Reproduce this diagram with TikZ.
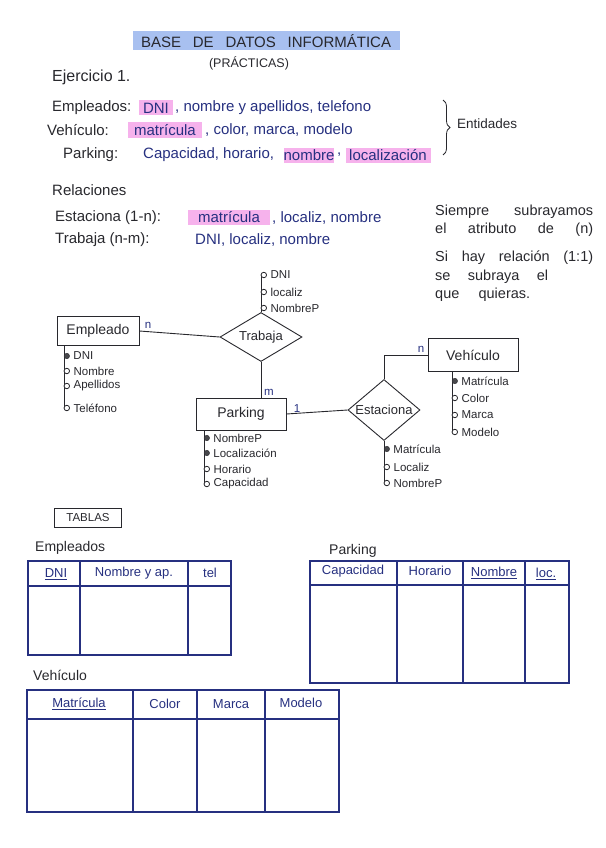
\documentclass[tikz,border=0pt]{standalone}
\usepackage{fontspec}
\setmainfont{Liberation Sans}
\usetikzlibrary{shapes.geometric,decorations.pathreplacing}

\definecolor{tinta}{RGB}{40,40,45}
\definecolor{azul}{RGB}{38,48,128}
\definecolor{rosa}{RGB}{246,178,236}
\definecolor{celeste}{RGB}{168,192,240}

\tikzset{
  texto/.style={anchor=west, inner sep=0pt, text=tinta, font=\fontsize{15}{18}\selectfont},
  dato/.style={texto, text=azul},
  resalte/.style={fill=rosa, text=azul, inner sep=0pt, minimum height=15pt, font=\fontsize{15}{18}\selectfont},
  nota/.style={texto, font=\fontsize{14.5}{17}\selectfont},
  entidad/.style={draw=tinta, line width=0.9pt, rectangle, inner sep=0pt, text=tinta, font=\fontsize{14}{16}\selectfont},
  relacion/.style={draw=tinta, line width=0.9pt, diamond, inner sep=0pt, text=tinta, font=\fontsize{13}{15}\selectfont},
  clave/.style={circle, draw=tinta, fill=tinta!85, inner sep=0pt, minimum size=5.5pt},
  atributo/.style={circle, draw=tinta, line width=0.8pt, fill=white, inner sep=0pt, minimum size=5.5pt},
  etiqueta/.style={inner sep=0pt, text=tinta, font=\fontsize{11.5}{13}\selectfont},
  card/.style={inner sep=0pt, text=azul, font=\fontsize{11.5}{13}\selectfont},
  linea/.style={draw=tinta, line width=0.9pt},
  tabla/.style={draw=azul, line width=1.1pt},
  cabecera/.style={inner sep=0pt, text=azul, font=\fontsize{13}{15}\selectfont}
}

\begin{document}
\begin{tikzpicture}[x=1pt, y=-1pt, label distance=3.5pt]
\useasboundingbox (0,0) rectangle (605,848);

% encabezado
\node[fill=celeste, minimum width=267, minimum height=19, inner sep=0pt, text=tinta,
      font=\fontsize{15}{18}\selectfont] (titulo) at (266,41) {\makebox[250pt][s]{BASE DE DATOS INFORMÁTICA}};
\node[texto, anchor=center, font=\fontsize{12.5}{14}\selectfont] (practicas) at (249,63) {(PRÁCTICAS)};
\node[texto, font=\fontsize{16}{18}\selectfont] (ejercicio) at (52,77) {Ejercicio 1.};

% entidades
\node[texto] (empleados) at (52,108) {Empleados:};
\node[resalte, minimum width=34] (hDNI) at (156,108) {DNI};
\node[dato] (restoEmp) at (175,108) {, nombre y apellidos, telefono};

\node[texto] (vehiculos) at (47,130) {Vehículo:};
\node[resalte, minimum width=74] (hMatricula) at (165,130) {matrícula};
\node[dato] (restoVeh) at (205,130) {, color, marca, modelo};

\node[texto] (parkings) at (63,155) {Parking:};
\node[dato] (restoPark) at (143,155) {Capacidad, horario,};
\node[resalte, minimum width=50] (hNombre) at (309,155) {nombre};
\node[dato] (coma) at (337,155) {,};
\node[resalte, minimum width=85] (hLocalizacion) at (388,155) {localización};

\draw[tinta, line width=0.8pt, decorate, decoration={brace, amplitude=7pt}] (443,100) -- (443,155);
\node[nota, font=\fontsize{13.5}{16}\selectfont] (entidades) at (457,124) {Entidades};

% relaciones
\node[texto] (relaciones) at (52,190) {Relaciones};
\node[texto] (estacionaTxt) at (55,218) {Estaciona (1-n):};
\node[resalte, minimum width=82] (hMatricula2) at (229,217) {matrícula};
\node[dato] (restoEst) at (272,218) {, localiz, nombre};
\node[texto] (trabajaTxt) at (55,240) {Trabaja (n-m):};
\node[dato] (restoTrab) at (195,240) {DNI, localiz, nombre};

\node[nota] (nota1) at (435,212) {\makebox[158pt][s]{Siempre subrayamos}};
\node[nota] (nota2) at (435,230) {\makebox[158pt][s]{el atributo de (n)}};
\node[nota] (nota3) at (435,258) {\makebox[158pt][s]{Si hay relación (1:1)}};
\node[nota] (nota4) at (435,277) {\makebox[113pt][s]{se subraya el}};
\node[nota] (nota5) at (435,295) {\makebox[95pt][s]{que quieras.}};

% diagrama
\node[entidad, minimum width=82, minimum height=29] (empleado) at (98,331) {Empleado};
\node[relacion, minimum width=82, minimum height=49, aspect=1.7] (trabaja) at (261,337) {Trabaja};
\node[entidad, minimum width=90, minimum height=32] (parking) at (241,414) {Parking};
\node[relacion, minimum width=72, minimum height=61, aspect=1.2] (estaciona) at (384,410) {Estaciona};
\node[entidad, minimum width=90, minimum height=33] (vehiculo) at (473,355) {Vehículo};

\draw[linea] (empleado.east) -- (trabaja.west);
\draw[linea] (trabaja.south) -- (trabaja.south |- parking.north);
\draw[linea] (parking.east) -- (estaciona.west);
\draw[linea] (estaciona.north) |- (vehiculo.west);

\node[card] (nEmp) at (148,325) {n};
\node[card] (mPark) at (269,392) {m};
\node[card] (unoPark) at (297,409) {1};
\node[card] (nVeh) at (421,349) {n};

% atributos
\draw[linea] (64,346) -- (64,408);
\node[clave, label={[etiqueta]right:DNI}] (eDNI) at (66.8,356) {};
\node[atributo, label={[etiqueta]right:Nombre}] (eNombre) at (66.8,371) {};
\node[atributo, label={[etiqueta]right:Apellidos}] (eApellidos) at (66.8,386) {};
\node[atributo, label={[etiqueta]right:Teléfono}] (eTelefono) at (66.8,408) {};

\draw[linea] (trabaja.north) -- (261,275);
\node[atributo, label={[etiqueta]right:DNI}] (tDNI) at (263.8,275) {};
\node[atributo, label={[etiqueta]right:localiz}] (tLocaliz) at (263.8,292) {};
\node[atributo, label={[etiqueta]right:NombreP}] (tNombreP) at (263.8,308) {};

\draw[linea] (204,430) -- (204,484);
\node[clave, label={[etiqueta]right:NombreP}] (pNombreP) at (206.8,438) {};
\node[clave, label={[etiqueta]right:Localización}] (pLocalizacion) at (206.8,453) {};
\node[atributo, label={[etiqueta]right:Horario}] (pHorario) at (206.8,469) {};
\node[atributo, label={[etiqueta]right:Capacidad}] (pCapacidad) at (206.8,484) {};

\draw[linea] (estaciona.south) -- (384,483);
\node[clave, label={[etiqueta]right:Matrícula}] (sMatricula) at (386.8,449) {};
\node[atributo, label={[etiqueta]right:Localiz}] (sLocaliz) at (386.8,467) {};
\node[atributo, label={[etiqueta]right:NombreP}] (sNombreP) at (386.8,483) {};

\draw[linea] (452,372) -- (452,432);
\node[clave, label={[etiqueta]right:Matrícula}] (vMatricula) at (454.8,381) {};
\node[atributo, label={[etiqueta]right:Color}] (vColor) at (454.8,398) {};
\node[atributo, label={[etiqueta]right:Marca}] (vMarca) at (454.8,415) {};
\node[atributo, label={[etiqueta]right:Modelo}] (vModelo) at (454.8,432) {};

% tablas
\node[draw=tinta, line width=0.8pt, minimum width=67, minimum height=19, inner sep=0pt, text=tinta,
      font=\fontsize{11.5}{13}\selectfont] (tablas) at (88,518) {TABLAS};

\node[texto, font=\fontsize{14}{16}\selectfont] (tEmpleados) at (35,548) {Empleados};
\draw[tabla] (28,561) rectangle (231,655);
\draw[tabla] (28,586) -- (231,586);
\draw[tabla] (80,561) -- (80,655);
\draw[tabla] (188,561) -- (188,655);
\node[cabecera] (cDNI) at (56,574) {\underline{DNI}};
\node[cabecera] (cNombre) at (134,573) {Nombre y ap.};
\node[cabecera] (cTel) at (210,573) {tel};

\node[texto, font=\fontsize{14}{16}\selectfont] (tParking) at (329,551) {Parking};
\draw[tabla] (310,561) rectangle (569,683);
\draw[tabla] (310,585) -- (569,585);
\draw[tabla] (397,561) -- (397,683);
\draw[tabla] (463,561) -- (463,683);
\draw[tabla] (525,561) -- (525,683);
\node[cabecera] (cCapacidad) at (353,571) {Capacidad};
\node[cabecera] (cHorario) at (430,571) {Horario};
\node[cabecera] (cNombreP) at (494,573) {\underline{Nombre}};
\node[cabecera] (cLoc) at (546,574) {\underline{loc.}};

\node[texto, font=\fontsize{14}{16}\selectfont] (tVehiculo) at (33,675) {Vehículo};
\draw[tabla] (27,690) rectangle (339,812);
\draw[tabla] (27,719) -- (339,719);
\draw[tabla] (133,690) -- (133,812);
\draw[tabla] (197,690) -- (197,812);
\draw[tabla] (265,690) -- (265,812);
\node[cabecera] (cMatricula) at (79,704) {\underline{Matrícula}};
\node[cabecera] (cColor) at (165,704) {Color};
\node[cabecera] (cMarca) at (231,704) {Marca};
\node[cabecera] (cModelo) at (301,703) {Modelo};
\end{tikzpicture}
\end{document}
